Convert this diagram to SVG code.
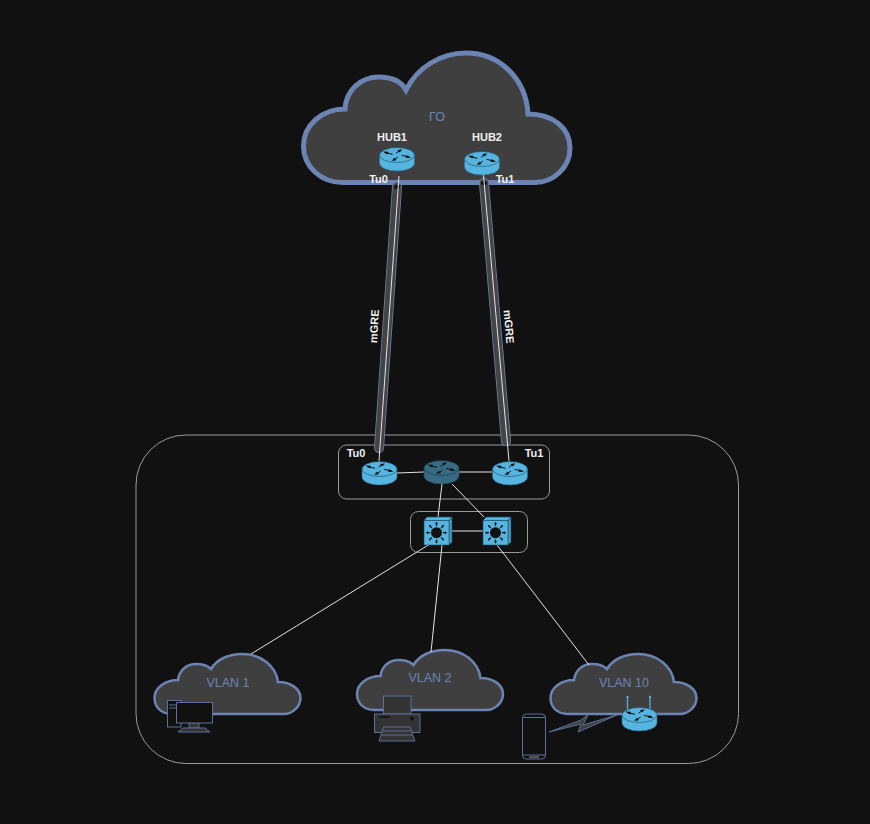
<svg xmlns="http://www.w3.org/2000/svg" xmlns:xlink="http://www.w3.org/1999/xlink" width="870" height="824" viewBox="0 0 870 824">
<style>
text{font-family:"Liberation Sans",Arial,sans-serif}
.lbl{font-size:11px;font-weight:bold;fill:#f0f0f0;text-anchor:middle}
.cl{font-size:12.500px;fill:#6c84b4;text-anchor:middle}
.box{fill:none;stroke:#9a9a9a;stroke-width:1}
.wire{stroke:#e4e4e4;stroke-width:1;fill:none}
.cloud{fill:#3f3f3f;stroke:#6c84b4;stroke-width:2.500}
.ico{fill:#111;stroke:#5c7099;stroke-width:1}
.icl{stroke:#5c7099;stroke-width:1;fill:none}
</style>
<defs>
<path id="smallcloud" d="M172 714C160 714 154.500 706 154.500 698C154.500 688 165 680 178 680C179 671 186 664 196 664C203 664 208 666 211 669C217 659 229 654 242 654C261 654 276 666 278 682C291 682 300.500 689 300.500 698C300.500 707 292 714 284 714Z"/>
<g id="router">
<path d="M0 8V16A17.500 8 0 0 0 35 16V8Z" fill="#56b4e0" stroke="#2a6f90" stroke-width=".5"/>
<ellipse cx="17.500" cy="8" rx="17.500" ry="7.500" fill="#56b4e0" stroke="#1d4a60" stroke-width=".6"/>
<path d="M5 5.500L13 7.300M30 10L22 8.400M21 3L16.500 6.300M14 13.300L18.500 10" fill="none" stroke="#111" stroke-width="1"/>
<path d="M3.500 4.500L9 4.800L8 7.500ZM31.500 11L26 10.700L27 8ZM23 2.500L18 3L20 5.500ZM12 13.800L17 13.300L15 10.800Z" fill="#111"/>
</g>
<g id="switch">
<path d="M0 3.500L3 0H28L25 3.500Z" fill="#56b4e0" stroke="#1d4a60" stroke-width=".6"/>
<path d="M25 3.500L28 0V25L25 28Z" fill="#4a9dc4" stroke="#1d4a60" stroke-width=".6"/>
<rect x="0" y="3.500" width="25" height="24.500" fill="#56b4e0" stroke="#1d4a60" stroke-width=".6"/>
<circle cx="12.500" cy="15.700" r="5.500" fill="#111"/>
<path d="M12.500 9V6M12.500 22.500V25.500M6 15.700H3M19 15.700H22M7.900 11L5.700 8.800M17.100 11L19.300 8.800M7.900 20.400L5.700 22.600M17.100 20.400L19.300 22.600" stroke="#111" stroke-width="1.200" fill="none"/>
<path d="M12.500 4.800L14 7H11ZM12.500 26.600L14 24.400H11ZM1.900 15.700L4.100 14.200V17.200ZM23.100 15.700L20.900 14.200V17.200ZM5 8L7.300 8.500L5.600 10.200ZM20 8L17.700 8.500L19.400 10.200ZM5 23.400L7.300 22.900L5.600 21.200ZM20 23.400L17.700 22.900L19.400 21.200Z" fill="#111"/>
</g>
</defs>
<rect width="870" height="824" fill="#111"/>
<g id="site-boundary"><rect class="box" x="136" y="435" width="602.500" height="328.500" rx="50"/></g>
<g id="router-group"><rect class="box" x="338.500" y="445" width="211" height="54" rx="8"/></g>
<g id="switch-group"><rect class="box" x="410.500" y="511.500" width="117" height="41" rx="8"/></g>
<g id="cloud-go">
<path d="M343 182.500C320 182.500 303.500 166 303.500 146C303.500 125 322 109 345 109C346 90 361 77 379 77C391 77 401 81 406 90C417 68 440 53 466 53C500 53 526 79 528 114C553 114 570 128 570 148C570 168 553 182.500 535 182.500Z" fill="#3f3f3f" stroke="#6c84b4" stroke-width="5"/>
<text class="cl" x="437" y="120.500">ГО</text>
</g>
<g id="vlan1"><use xlink:href="#smallcloud" href="#smallcloud" class="cloud"/><text class="cl" x="228" y="687">VLAN 1</text></g>
<g id="vlan2"><use xlink:href="#smallcloud" href="#smallcloud" class="cloud" transform="translate(202.500,-4)"/><text class="cl" x="430" y="682">VLAN 2</text></g>
<g id="vlan10"><use xlink:href="#smallcloud" href="#smallcloud" class="cloud" transform="translate(396,0)"/><text class="cl" x="624" y="687">VLAN 10</text></g>
<g id="connectors">
<g id="tunnels">
<path d="M397 187L379 448" stroke="#6c84b4" stroke-width="10" stroke-linecap="round" fill="none"/>
<path d="M397 187L379 448" stroke="#444" stroke-width="8.500" stroke-linecap="round" fill="none"/>
<path d="M484 183L506 441" stroke="#6c84b4" stroke-width="10" stroke-linecap="round" fill="none"/>
<path d="M484 183L506 441" stroke="#444" stroke-width="8.500" stroke-linecap="round" fill="none"/>
<ellipse cx="397" cy="187" rx="3" ry="2" fill="#111"/>
<ellipse cx="484" cy="183" rx="3" ry="2" fill="#111"/>
</g>
<path class="wire" d="M399 176L379 461"/>
<path class="wire" d="M483 170L509 461"/>
<path class="wire" d="M397 473L424 472"/>
<path class="wire" d="M459 472L492 472"/>
<path class="wire" d="M442 484L438 517"/>
<path class="wire" d="M452 484L484 517"/>
<path class="wire" d="M452 531L483 531"/>
<path class="wire" d="M430 544L251 654"/>
<path class="wire" d="M442 545L431 652"/>
<path class="wire" d="M497 545L589 665"/>
</g>
<g id="hub1"><use xlink:href="#router" href="#router" x="379.500" y="147"/><text class="lbl" x="392" y="141">HUB1</text><text class="lbl" x="378.500" y="183">Tu0</text></g>
<g id="hub2"><use xlink:href="#router" href="#router" x="464.500" y="151"/><text class="lbl" x="487" y="141">HUB2</text><text class="lbl" x="505" y="183">Tu1</text></g>
<g id="spoke-left"><use xlink:href="#router" href="#router" x="362" y="461"/><text class="lbl" x="356" y="457">Tu0</text></g>
<g id="spoke-center"><use xlink:href="#router" href="#router" x="424" y="460" opacity=".55"/></g>
<g id="spoke-right"><use xlink:href="#router" href="#router" x="492.500" y="461"/><text class="lbl" x="534" y="457">Tu1</text></g>
<g id="switch1"><use xlink:href="#switch" href="#switch" x="424" y="517"/></g>
<g id="switch2"><use xlink:href="#switch" href="#switch" x="483" y="517"/></g>
<g id="pc">
<rect class="ico" x="167.500" y="700.500" width="13.500" height="26.500" fill="#333"/>
<path class="icl" d="M169 705H177M169 708H177"/>
<circle cx="170" cy="716" r="1" fill="#111"/>
<path class="ico" d="M189 723H199V728H189Z" style="fill:#333"/>
<path class="ico" d="M183 728H205L210 732H178Z" style="fill:#333"/>
<rect class="ico" x="176.500" y="702.500" width="36" height="20.500"/>
</g>
<g id="printer">
<rect class="ico" x="383.500" y="696" width="27.500" height="18" style="fill:#333"/>
<rect class="ico" x="374.500" y="714" width="45.500" height="18.500" style="fill:#333"/>
<path d="M379 717H390" stroke="#111" stroke-width="1.500"/>
<circle cx="412" cy="718.500" r="2" fill="#111"/>
<path class="ico" d="M383.500 727H410L415 741H379Z" style="fill:#333"/>
<path class="icl" d="M383 731H411M381.500 735H412.500"/>
</g>
<g id="phone">
<rect class="ico" x="522.500" y="714" width="23" height="45" rx="4"/>
<path class="icl" d="M523 717.500H545M523 755H545"/>
<rect x="529" y="756" width="10" height="2" fill="#555"/>
</g>
<g id="wireless-link"><path d="M549 732L581 720L588 715L583 725L617 715L578 732L581 724Z" fill="#3f3f3f" stroke="#5c7099" stroke-width="1"/></g>
<g id="wifi-router">
<path d="M627.500 698V710M650 698V710" stroke="#56b4e0" stroke-width="1.200" fill="none"/>
<circle cx="627.500" cy="697" r="1.200" fill="#56b4e0"/><circle cx="650" cy="697" r="1.200" fill="#56b4e0"/>
<use xlink:href="#router" href="#router" x="622" y="707"/>
</g>
<g id="tunnel-labels">
<text class="lbl" transform="translate(378,326.500) rotate(-86.500)">mGRE</text>
<text class="lbl" transform="translate(505,327) rotate(85)">mGRE</text>
</g>
</svg>
